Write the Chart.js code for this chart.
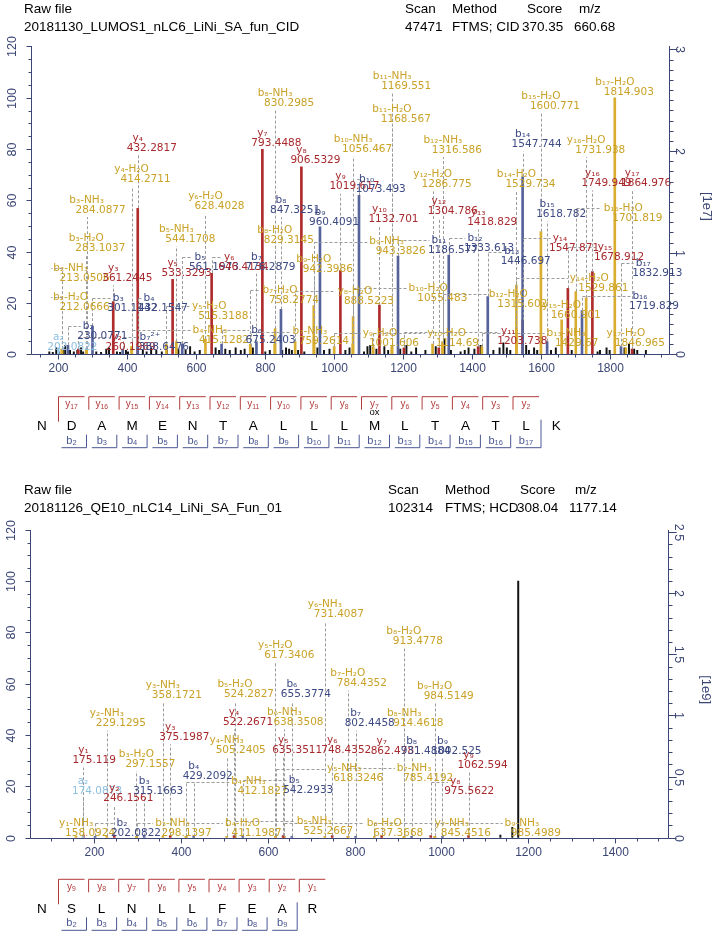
<!DOCTYPE html>
<html>
<head>
<meta charset="utf-8">
<script src="https://cdn.jsdelivr.net/npm/chart.js@4.4.1/dist/chart.umd.min.js"></script>
<style>
  body { margin: 0; background: #fff; width: 714px; height: 933px; position: relative; overflow: hidden; font-family: "Liberation Sans", Arial, sans-serif; }
  canvas { position: absolute; left: 0; }
  .hd { position: absolute; font-size: 13.5px; line-height: 16px; color: #000; white-space: pre; }
  svg { position: absolute; left: 0; top: 0; }
</style>
</head>
<body>
<canvas id="topChart" width="714" height="380" style="top:0"></canvas>
<canvas id="botChart" width="714" height="385" style="top:480px"></canvas>
<svg id="seq" width="714" height="933"></svg>
<div id="hdr"></div>
<script>
// ---- header info ----
const headLabels = ["Raw file", "Scan", "Method", "Score", "m/z"];
const topInfo = ["20181130_LUMOS1_nLC6_LiNi_SA_fun_CID", "47471", "FTMS; CID", "370.35", "660.68"];
const botInfo = ["20181126_QE10_nLC14_LiNi_SA_Fun_01", "102314", "FTMS; HCD", "308.04", "1177.14"];

// ---- top spectrum: annotated peaks [ion, m/z, relative intensity %] ----
const topPeaks = [
  ["a2", 202.0822, 2.5], ["b2", 230.0771, 3.5], ["b2-H2O", 212.0666, 2], ["b2-NH3", 213.0506, 2],
  ["y2", 260.1969, 2], ["b3", 301.1142, 11], ["b3-H2O", 283.1037, 2], ["b3-NH3", 284.0877, 2],
  ["y3", 361.2445, 20.5], ["b7(2+)", 388.6476, 2], ["y4-H2O", 414.2711, 3], ["b4-NH3", 415.1282, 3],
  ["b4", 432.1547, 3], ["y4", 432.2817, 56.9], ["y5-H2O", 515.3188, 4], ["y5", 533.3293, 29.2],
  ["b5-NH3", 544.1708, 5], ["b5", 561.1973, 4], ["y6-H2O", 628.4028, 6], ["y6", 646.4134, 31.6],
  ["b6", 675.2403, 4], ["b7-H2O", 758.2774, 4], ["b7-NH3", 759.2614, 3], ["b7", 776.2879, 5],
  ["y7", 793.4488, 79.9], ["b8-H2O", 829.3145, 4], ["b8-NH3", 830.2985, 10], ["b8", 847.3251, 17.5],
  ["y8-H2O", 888.5223, 5], ["y8", 906.5329, 73.1], ["b9-H2O", 942.3986, 19], ["b9-NH3", 943.3826, 6],
  ["b9", 960.4091, 49.7], ["y9-H2O", 1001.606, 3], ["y9", 1019.617, 32.6], ["b10-H2O", 1055.483, 4],
  ["b10-NH3", 1056.467, 14.7], ["b10", 1073.493, 62], ["y10-H2O", 1114.69, 3], ["y10", 1132.701, 19.2],
  ["b11-H2O", 1168.567, 3], ["b11-NH3", 1169.551, 3], ["b11", 1186.577, 38.3], ["y11", 1203.738, 2.5],
  ["y12-H2O", 1286.775, 4], ["y12", 1304.786, 2.5], ["b12-H2O", 1315.602, 5], ["b12-NH3", 1316.586, 4],
  ["b12", 1333.613, 38.7], ["y13", 1418.829, 3], ["b13-NH3", 1429.67, 3], ["b13", 1446.697, 22.5],
  ["b14-H2O", 1529.734, 27], ["y14-H2O", 1529.861, 10], ["b14", 1547.744, 69.2], ["y14", 1547.871, 13.4],
  ["b15-H2O", 1600.771, 47.8], ["b15", 1618.782, 5], ["y15-H2O", 1660.901, 13.4], ["y15", 1678.912, 25.7],
  ["b16-H2O", 1701.819, 24.4], ["b16", 1719.829, 17], ["y16-H2O", 1731.938, 22], ["y16", 1749.949, 32.2],
  ["b17-H2O", 1814.903, 100], ["b17", 1832.913, 3], ["y17-H2O", 1846.965, 2.5], ["y17", 1864.976, 2]
];
// unannotated peaks [m/z, %]
const topOther = [
  [176,1],[186,0.8],[196,2.5],[204,1],[216,2],[222,3.5],[236,1.5],[247,1],[257,1.5],[268,2.5],[274,1],
  [312,1],[326,0.8],[341,2],[349,2.5],[372,1],[381,0.8],[398,1.5],[404,1],[447,1.5],[458,1],[471,2.5],
  [486,1.5],[502,1],[517,1.5],[550,2],[571,1.5],[584,3],[597,1],[612,1.5],[658,2.5],[668,1.5],[686,2],
  [699,1.5],[716,2.5],[731,1.5],[742,2],[766,2.5],[802,1],[815,1.5],[851,1.5],[862,2.5],[871,2],[879,1.5],
  [897,1.5],[915,1],[953,2.5],[972,1.5],[988,2],[1034,1.5],[1046,2.5],[1088,1],[1098,3],[1106,3.5],
  [1124,2],[1147,3],[1158,1.5],[1193,2],[1211,3.5],[1225,1],[1239,2.5],[1266,1.5],[1296,3],[1321,6],
  [1340,1.5],[1368,1],[1380,1.5],[1391,2.5],[1408,2],[1426,3.5],[1463,1.5],[1481,2.5],[1492,4.5],[1502,2.5],
  [1512,1.5],[1558,3.5],[1566,1.5],[1581,2.5],[1590,1.5],[1630,1.5],[1644,2.5],[1690,1.5],[1765,1],[1772,1.5],
  [1791,2.5],[1800,1.5],[1843,2.5],[1856,4],[1871,2],[1880,1.5],[1905,1.5]
];

// ---- bottom spectrum ----
const botPeaks = [
  ["y1-NH3", 158.0924, 0.5], ["a2", 174.0873, 0.5], ["y1", 175.119, 1], ["b2", 202.0822, 0.5],
  ["y2-NH3", 229.1295, 0.5], ["y2", 246.1561, 1], ["b3-H2O", 297.1557, 0.5], ["b3-NH3", 298.1397, 0.5],
  ["b3", 315.1663, 0.5], ["y3-NH3", 358.1721, 0.5], ["y3", 375.1987, 0.8], ["b4-H2O", 411.1987, 0.5],
  ["b4-NH3", 412.1827, 0.5], ["b4", 429.2092, 0.5], ["y4-NH3", 505.2405, 0.5], ["y4", 522.2671, 0.8],
  ["b5-H2O", 524.2827, 0.5], ["b5-NH3", 525.2667, 0.5], ["b5", 542.2933, 0.5], ["y5-H2O", 617.3406, 0.5],
  ["y5-NH3", 618.3246, 0.5], ["y5", 635.3511, 0.8], ["b6-H2O", 637.3668, 0.5], ["b6-NH3", 638.3508, 0.5],
  ["b6", 655.3774, 0.5], ["y6-NH3", 731.4087, 0.5], ["y6", 748.4352, 0.8], ["b7-H2O", 784.4352, 0.5],
  ["b7-NH3", 785.4192, 0.5], ["b7", 802.4458, 0.5], ["y7-NH3", 845.4516, 0.5], ["y7", 862.4781, 0.8],
  ["b8-H2O", 913.4778, 0.5], ["b8-NH3", 914.4618, 0.5], ["b8", 931.4884, 0.5], ["y8", 975.5622, 0.8],
  ["b9-H2O", 984.5149, 0.5], ["b9-NH3", 985.4989, 0.5], ["b9", 1002.525, 0.5], ["y9", 1062.594, 0.8]
];
const botOther = [[1136, 1], [1163.5, 4], [1177.14, 100]];

// ---- sequences ----
const topSeq = ["D","A","M","E","N","T","A","L","L","L","M","L","T","A","T","L","K"];
const topYMarks = [17,16,15,14,13,12,11,10,9,8,7,6,5,4,3,2,null];
const topBMarks = [2,3,4,5,6,7,8,9,10,11,12,13,14,15,16,17,null];
const topMods = [null,null,null,null,null,null,null,null,null,null,"ox",null,null,null,null,null,null];
const botSeq = ["S","L","N","L","L","F","E","A","R"];
const botYMarks = [9,8,7,6,5,4,3,2,1];
const botBMarks = [2,3,4,5,6,7,8,9,null];

// ---- label placement (layout): ion -> [label m/z or null = above peak, label height %] ----
const topLabelAt = {
  "a2":[null,2.9], "b2":[288.7,7.1], "b2-H2O":[237.7,18.3], "b2-NH3":[237.7,29.6], "y2":[371,2.7],
  "b3":[375.7,17.9], "b3-H2O":[null,41.3], "b3-NH3":[null,56.2], "y3":[null,29.6], "b7(2+)":[467.5,2.7],
  "y4-H2O":[null,68.2], "b4-NH3":[641.4,5.6], "b4":[464.6,17.9], "y4":[null,80.3], "y5-H2O":[639.4,14.9],
  "y5":[null,31.6], "b5-NH3":[null,44.9], "b5":[612.5,34.1], "y6-H2O":[null,57.5], "y6":[697.4,34.1],
  "b6":[776.8,5.6], "b7-H2O":[844.3,21.2], "b7-NH3":[931.3,4.9], "b7":[null,34.1], "y7":[null,82.2],
  "b8-H2O":[null,44.5], "b8-NH3":[null,97.8], "b8":[null,56.2], "y8-H2O":[1061.7,20.8], "y8":[null,75.7],
  "b9-H2O":[null,33.1], "b9-NH3":[1153.6,40], "b9":[null,51.4], "y9-H2O":[1134.2,4.3], "y9":[null,65.3],
  "b10-H2O":[1274.2,21.8], "b10-NH3":[null,79.9], "b10":[1095.7,64.3], "y10-H2O":[1327.5,4.3],
  "y10":[null,52.6], "b11-H2O":[null,91.6], "b11-NH3":[null,104.6], "b11":[1305.2,40.6], "y11":[1506.1,4.9],
  "y12-H2O":[null,66.2], "y12":[null,55.6], "b12-H2O":[1506.1,19.6], "b12-NH3":[null,79.6], "b12":[1409.6,41.3],
  "y13":[null,51.4], "b13-NH3":[1673.3,4.3], "b13":[1516,36.1], "b14-H2O":[null,66.2], "y14-H2O":[1740.9,25.7],
  "b14":[null,81.8], "y14":[1656,41.5], "b15-H2O":[null,96.8], "b15":[null,54.7], "y15-H2O":[null,15.3],
  "y15":[1786.4,37.8], "b16-H2O":[1839.4,53], "b16":[1887.8,18.9], "y16-H2O":[null,79.6], "y16":[null,66.6],
  "b17-H2O":[null,102.1], "b17":[1897.4,31.6], "y17-H2O":[null,4.3], "y17":[null,66.6]
};
const botLabelAt = {
  "y1-NH3":[null,1.8], "a2":[null,18], "y1":[null,30], "b2":[263.8,1.8], "y2-NH3":[null,44.5], "y2":[null,15.3],
  "b3-H2O":[null,28.7], "b3-NH3":[380.4,1.8], "b3":[null,18], "y3-NH3":[null,55.3], "y3":[null,39.1],
  "b4-H2O":[541.7,1.8], "b4-NH3":[555.5,18], "b4":[null,23.8], "y4-NH3":[null,33.9], "y4":[null,44.9],
  "b5-H2O":[null,55.7], "b5-NH3":[706.9,2.5], "b5":[660.8,18.6], "y5-H2O":[null,70.9], "y5-NH3":[776,23],
  "y5":[null,33.9], "b6-H2O":[868.2,1.8], "b6-NH3":[null,44.9], "b6":[null,55.7], "y6-NH3":[null,86.9],
  "y6":[null,33.9], "b7-H2O":[null,60.1], "b7-NH3":[937.3,23.3], "b7":[null,44.5], "y7-NH3":[1024.2,1.8],
  "y7":[null,33.6], "b8-H2O":[null,76.4], "b8-NH3":[null,44.5], "b8":[null,33.6], "y8":[1031.8,18],
  "b9-H2O":[null,55], "b9-NH3":[1185.5,1.8], "b9":[null,33.6], "y9":[null,28.4]
};

// ---- styling ----
const AXIS = "#3b4675";
const TEXT_COL = { y: "#a8292d", b: "#3d4a84", loss: "#c9a227", a: "#8cbfe0" };
const STICK_COL = { y: "#b02c2c", b: "#56639b", loss: "#d9ad30", a: "#9fcbe6" };
const SUB = "₀₁₂₃₄₅₆₇₈₉";

function ionType(ion) {
  if (ion.indexOf("-") > 0) return "loss";
  return ion[0];
}
function fmtIon(ion) {
  const m = ion.match(/^([aby])(\d+)(.*)$/);
  let s = m[1] + m[2].split("").map(d => SUB[+d]).join("");
  return s + m[3].replace("(2+)", "²⁺").replace("NH3", "NH₃").replace("H2O", "H₂O");
}
function fmtMz(mz) {
  return String(Number(mz.toPrecision(7)));
}

function makeDatasets(peaks, other) {
  const sets = ["a", "b", "y", "loss"].map(t => ({
    data: peaks.filter(p => ionType(p[0]) === t).map(p => ({ x: p[1], y: p[2] })),
    backgroundColor: STICK_COL[t],
    barThickness: 2,
    order: 1
  }));
  sets.push({ data: other.map(p => ({ x: p[0], y: p[1] })), backgroundColor: "#111", barThickness: 1.3, order: 5 });
  return sets;
}

const labelPlugin = {
  id: "ionLabels",
  afterDatasetsDraw(chart, args, o) {
    const { ctx } = chart;
    const x = chart.scales.x, y = chart.scales.y;
    ctx.save();
    ctx.font = '10.5px "DejaVu Sans"';
    ctx.lineWidth = 1;
    // leader lines
    ctx.strokeStyle = "#9b9b9b";
    ctx.setLineDash([3, 2]);
    o.peaks.forEach(([ion, mz, it]) => {
      const pos = o.layout[ion];
      if (!pos) return;
      const px = Math.round(x.getPixelForValue(mz)) + 0.5;
      const top = y.getPixelForValue(it);
      const vy = y.getPixelForValue(pos[1]);
      const ny = Math.round(vy - 10) + 0.5;
      ctx.beginPath();
      if (pos[0] === null) {
        if (top > vy + 7) { ctx.moveTo(px, top); ctx.lineTo(px, vy + 7); }
      } else {
        const lx = x.getPixelForValue(pos[0]);
        const w = ctx.measureText(fmtIon(ion)).width;
        const edge = lx > px ? lx - w / 2 - 2 : lx + w / 2 + 2;
        if (top > ny) { ctx.moveTo(px, top); ctx.lineTo(px, ny); }
        ctx.moveTo(px, ny); ctx.lineTo(edge, ny);
      }
      ctx.stroke();
    });
    ctx.setLineDash([]);
    // texts
    ctx.textBaseline = "middle";
    o.peaks.forEach(([ion, mz]) => {
      const pos = o.layout[ion];
      if (!pos) return;
      const lx = x.getPixelForValue(pos[0] === null ? mz : pos[0]);
      const vy = y.getPixelForValue(pos[1]);
      ctx.fillStyle = TEXT_COL[ionType(ion)];
      ctx.textAlign = "center";
      ctx.fillText(fmtIon(ion), lx, vy - 10);
      ctx.textAlign = "left";
      ctx.fillText(fmtMz(mz), lx - 11, vy);
    });
    ctx.restore();
  }
};

const axisPlugin = {
  id: "msAxes",
  afterDraw(chart, args, o) {
    const { ctx, chartArea: a } = chart;
    const x = chart.scales.x, y = chart.scales.y, r = chart.scales.y1;
    const seg = (x1, y1, x2, y2) => { ctx.beginPath(); ctx.moveTo(x1, y1); ctx.lineTo(x2, y2); ctx.stroke(); };
    ctx.save();
    ctx.strokeStyle = AXIS; ctx.fillStyle = AXIS; ctx.lineWidth = 1;
    const L = Math.round(a.left) + 0.5, R = Math.round(a.right) + 0.5, B = Math.round(a.bottom) + 0.5, T = Math.round(a.top);
    ctx.beginPath();
    ctx.moveTo(L, T); ctx.lineTo(L, B); ctx.lineTo(R, B); ctx.lineTo(R, T);
    ctx.stroke();
    ctx.font = '12px "Liberation Sans"';
    // x axis
    ctx.textAlign = "center"; ctx.textBaseline = "top";
    for (let k = Math.ceil(x.min / 50); k * 50 <= x.max; k++) {
      const v = k * 50, px = Math.round(x.getPixelForValue(v)) + 0.5;
      const major = v % 200 === 0;
      seg(px, B, px, B + (major ? 5 : 3));
      if (major) ctx.fillText(String(v), px, B + 8);
    }
    // left axis (percent)
    ctx.font = '12.5px "Liberation Sans"';
    ctx.textBaseline = "middle";
    for (let k = 0; k * 5 <= y.max; k++) {
      const v = k * 5, py = Math.round(y.getPixelForValue(v)) + 0.5;
      const major = v % 20 === 0;
      seg(L, py, L - (major ? 5 : 3), py);
      if (major) {
        ctx.save(); ctx.translate(L - 19, py); ctx.rotate(-Math.PI / 2);
        ctx.fillText(String(v), 0, 0); ctx.restore();
      }
    }
    // right axis (absolute intensity)
    const n = Math.floor(r.max / o.rMinor + 1e-6);
    for (let k = 0; k <= n; k++) {
      const v = k * o.rMinor, py = Math.round(r.getPixelForValue(v)) + 0.5;
      const major = Math.abs(v / o.rMajor - Math.round(v / o.rMajor)) < 1e-6;
      seg(R, py, R + (major ? 8 : 4), py);
      if (major) {
        ctx.save(); ctx.translate(R + 10, py); ctx.rotate(Math.PI / 2);
        ctx.fillText(String(Math.round(v * 10) / 10), 0, 0); ctx.restore();
      }
    }
    ctx.font = '13px "Liberation Sans"';
    ctx.save(); ctx.translate(R + 37, (a.top + a.bottom) / 2 + 6); ctx.rotate(Math.PI / 2);
    ctx.fillText(o.unit, 0, 0); ctx.restore();
    ctx.restore();
  }
};

function spectrum(id, peaks, other, layout, xr, rMax, rMajor, unit, pad) {
  new Chart(document.getElementById(id), {
    type: "bar",
    data: { datasets: makeDatasets(peaks, other) },
    options: {
      responsive: false,
      animation: false,
      events: [],
      layout: { padding: pad },
      datasets: { bar: { grouped: false } },
      scales: {
        x: { type: "linear", min: xr[0], max: xr[1], offset: false, display: false },
        y: { min: 0, max: 120, display: false },
        y1: { position: "right", min: 0, max: rMax, display: false }
      },
      plugins: {
        legend: { display: false },
        tooltip: { enabled: false },
        ionLabels: { peaks: peaks, layout: layout },
        msAxes: { rMajor: rMajor, rMinor: 0.1, unit: unit }
      }
    },
    plugins: [labelPlugin, axisPlugin]
  });
}

spectrum("topChart", topPeaks, topOther, topLabelAt, [122, 1972], 3.03, 1, "[1e7]",
  { left: 30.7, right: 45, top: 46.4, bottom: 25.7 });
spectrum("botChart", botPeaks, botOther, botLabelAt, [52, 1523], 2.52, 0.5, "[1e9]",
  { left: 30, right: 45.7, top: 49.7, bottom: 27.3 });

// ---- headers ----
function header(info, top, labelX, valueX) {
  const hdr = document.getElementById("hdr");
  headLabels.forEach((t, i) => {
    const d = document.createElement("div");
    d.className = "hd"; d.textContent = t;
    d.style.left = labelX[i] + "px"; d.style.top = top + "px";
    hdr.appendChild(d);
  });
  info.forEach((t, i) => {
    const d = document.createElement("div");
    d.className = "hd"; d.textContent = t;
    d.style.left = valueX[i] + "px"; d.style.top = (top + 18) + "px";
    hdr.appendChild(d);
  });
}
header(topInfo, 1, [24, 405, 452, 527, 579], [24, 405, 452, 522, 574]);
header(botInfo, 482, [24, 388, 445, 520, 575], [24, 388, 445, 517, 569]);

// ---- sequence diagrams ----
const NS = "http://www.w3.org/2000/svg";
const svg = document.getElementById("seq");
function el(tag, attrs, parent) {
  const e = document.createElementNS(NS, tag);
  for (const k in attrs) e.setAttribute(k, attrs[k]);
  (parent || svg).appendChild(e);
  return e;
}
function label(x, y, main, sub, size, color) {
  const t = el("text", { x: x, y: y, "text-anchor": "middle", "dominant-baseline": "middle",
    "font-size": size, fill: color, "font-family": "Liberation Sans, Arial" });
  t.appendChild(document.createTextNode(main));
  if (sub) {
    const s = el("tspan", { "font-size": size * 0.68, dy: 2 }, t);
    s.textContent = sub;
  }
}
function sequence(seq, yMarks, bMarks, mods, x0, dx, yTop) {
  const yc = "#b23a3a", bc = "#4a5792";
  label(41.9, yTop + 30, "N", null, 13.5, "#000");
  const lastB = bMarks.reduce((m, v, i) => (v !== null ? i : m), -1);
  seq.forEach((aa, i) => {
    const c = x0 + i * dx;
    label(c, yTop + 30, aa, null, 13.5, "#000");
    if (yMarks[i] !== null) {
      const h = i === 0 ? 25 : 13;
      el("path", { d: `M${c - 13} ${yTop + h} L${c - 13} ${yTop} L${c + 13} ${yTop}`, stroke: yc, fill: "none", "stroke-width": 1 });
      label(c, yTop + 8, "y", String(yMarks[i]), 10, yc);
    }
    if (bMarks[i] !== null) {
      const bl = yTop + 51, h = i === lastB ? 28 : 13;
      el("path", { d: `M${c - 10} ${bl} L${c + 15} ${bl} L${c + 15} ${bl - h}`, stroke: bc, fill: "none", "stroke-width": 1 });
      label(c, yTop + 44, "b", String(bMarks[i]), 11, bc);
    }
    if (mods && mods[i]) label(c, yTop + 16, mods[i], null, 9.5, "#000");
  });
}
sequence(topSeq, topYMarks, topBMarks, topMods, 71.5, 30.3, 396.7);
sequence(botSeq, botYMarks, botBMarks, null, 71.5, 30.1, 879.3);
</script>
</body>
</html>
